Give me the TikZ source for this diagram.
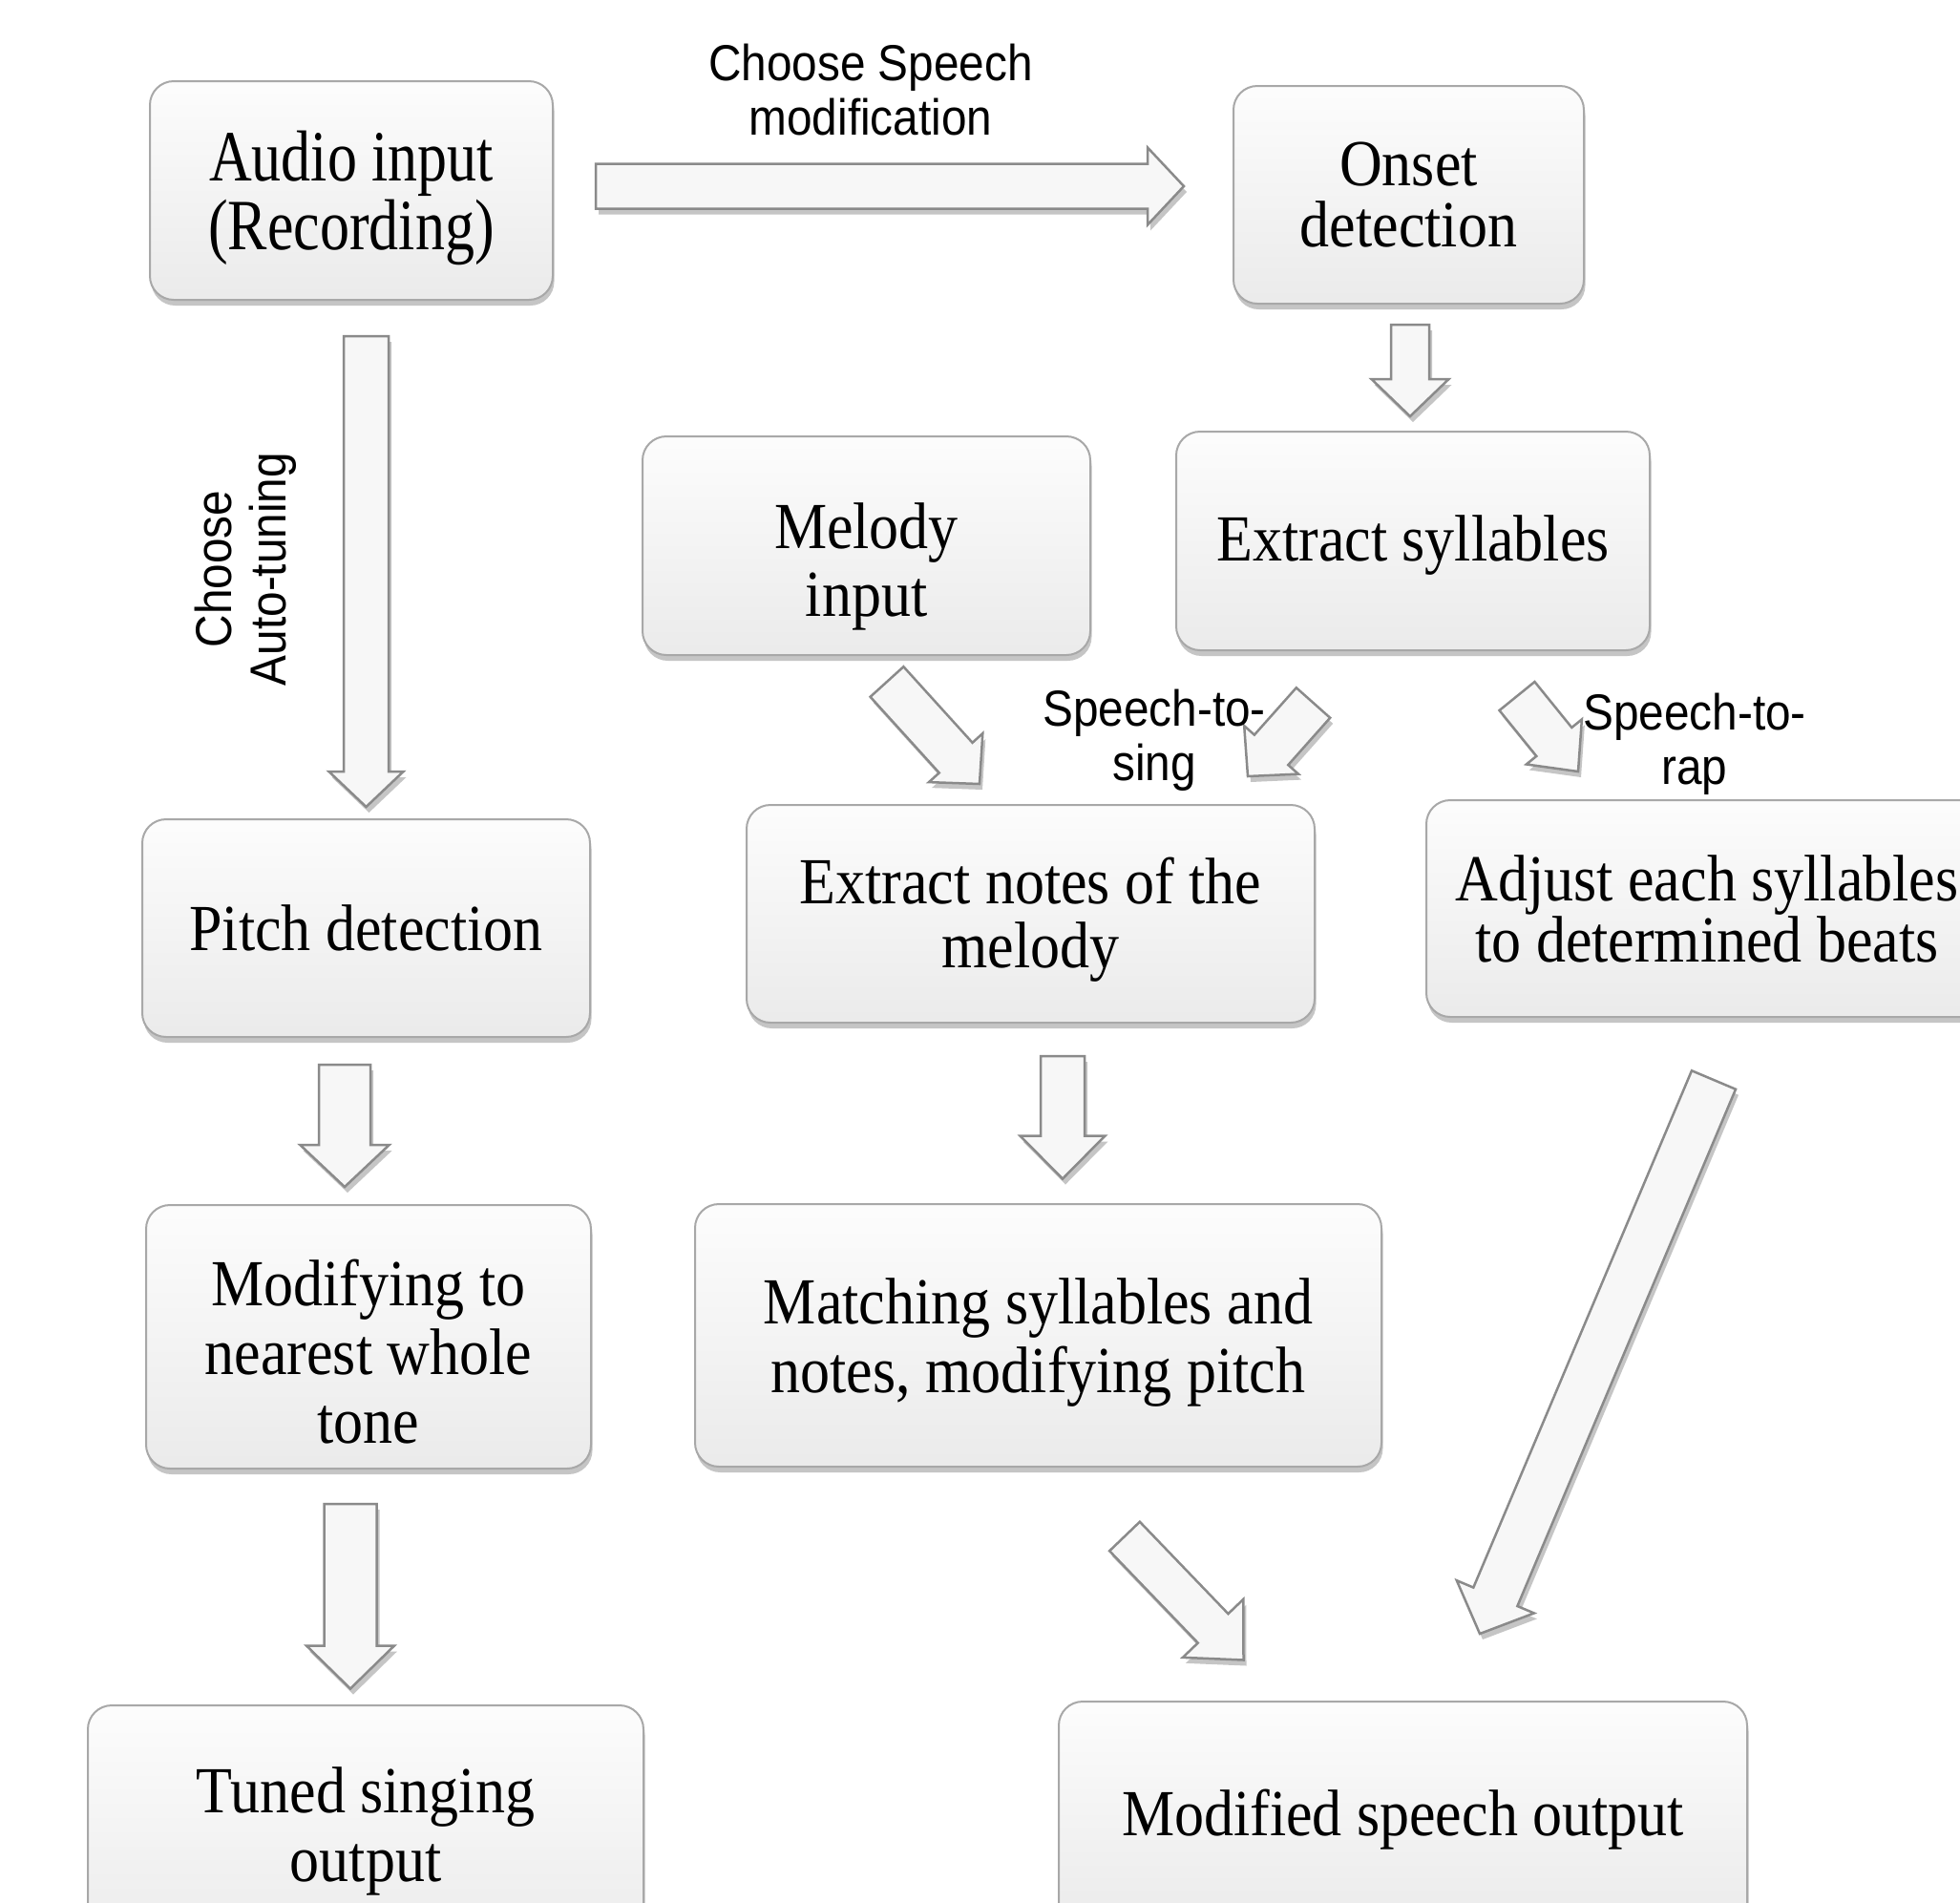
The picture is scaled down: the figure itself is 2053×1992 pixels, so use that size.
\documentclass[tikz,border=0pt]{standalone}
\usepackage{fontspec}
\usetikzlibrary{calc,shadows}
\newfontfamily\boxfont[FakeStretch=0.9]{Liberation Serif}
\newfontfamily\tallboxfont[FakeStretch=0.82]{Liberation Serif}
\newfontfamily\labelfont[FakeStretch=0.9]{Liberation Sans}
\definecolor{boxline}{HTML}{A8A8A8}
\definecolor{arrline}{HTML}{8A8A8A}

\tikzset{
  procbox/.style={draw=boxline, line width=0.2mm, rounded corners=2.5mm,
    top color=black!1, bottom color=black!8,
    drop shadow={shadow xshift=0.15mm, shadow yshift=-0.6mm, fill=black!45, opacity=0.5},
    align=center, inner sep=0pt, font=\boxfont\fontsize{19.6}{#1}\selectfont},
  procbox/.default=20.5,
  lbl/.style={font=\labelfont\fontsize{15.1}{16.3}\selectfont, align=center, inner sep=0pt},
  blockarr/.style={draw=arrline, line width=0.25mm, fill=black!3, line join=miter,
    drop shadow={shadow xshift=0.3mm, shadow yshift=-0.6mm, fill=black!50, opacity=0.45}}
}

% block arrow: tail, tip, shaft half width, head half width, head length
\newcommand{\blockarrow}[5]{%
  \coordinate (hb) at ($(#2)!#5!(#1)$);
  \draw[blockarr] ($(#1)!#3!90:(#2)$) -- ($(hb)!#3!90:(#2)$) -- ($(hb)!#4!90:(#2)$)
    -- (#2) -- ($(hb)!#4!-90:(#2)$) -- ($(hb)!#3!-90:(#2)$) -- ($(#1)!#3!-90:(#2)$) -- cycle;
}

\begin{document}
\begin{tikzpicture}[x=0.1mm, y=-0.1mm]
    \useasboundingbox (0,0) rectangle (2053,1992);
    \clip (0,0) rectangle (2053,1992);
    \fill[white] (0,0) rectangle (2053,1992);

    % Boxes
    \node[procbox, font=\tallboxfont\fontsize{21.5}{18.5}\selectfont, text depth=0pt,
          minimum width=42.2mm, minimum height=22.9mm] (audio) at (368,199.5) {Audio input\\(Recording)};
    \node[procbox=18.2, minimum width=36.7mm, minimum height=22.8mm] (onset) at (1475.5,204) {Onset\\detection};
    \node[procbox=20.2, text height=14.8mm, text depth=0pt, minimum width=46.9mm, minimum height=22.9mm] (melody) at (907.5,571.5) {Melody\\input};
    \node[procbox, text depth=0.5mm, minimum width=49.6mm, minimum height=22.9mm] (sylls) at (1480,566.5) {Extract syllables};
    \node[procbox, minimum width=46.9mm, minimum height=22.8mm] (pitch) at (383.5,972) {Pitch detection};
    \node[procbox=19.2, text depth=0.3mm, minimum width=59.5mm, minimum height=22.8mm] (notes) at (1079.5,957) {Extract notes of the\\melody};
    \node[procbox=18.2, minimum width=58.8mm, minimum height=22.7mm] (adjust) at (1788,951.5) {Adjust each syllables\\to determined beats};
    \node[procbox, text height=22.3mm, text depth=0pt, minimum width=46.6mm, minimum height=27.6mm] (modify) at (386,1400) {Modifying to\\nearest whole\\tone};
    \node[procbox, text depth=0pt, minimum width=71.9mm, minimum height=27.5mm] (match) at (1087.5,1398.5) {Matching syllables and\\notes, modifying pitch};
    \node[procbox, minimum width=58.2mm, minimum height=26.4mm] (tuned) at (383,1918) {Tuned singing\\output};
    \node[procbox, text depth=0.3mm, minimum width=72.1mm, minimum height=23.6mm] (modspeech) at (1469.5,1900) {Modified speech output};

    % Block arrows
    \foreach \n/\xa/\ya/\xb/\yb/\w/\h/\l in {
        speech/624/195/1240/195/2.35mm/4.05mm/3.8mm,
        tune/383.5/352/383.5/845/2.35mm/3.9mm/3.7mm,
        onset/1477/340/1477/436/2.0mm/4.05mm/3.9mm,
        melody/929/714/1026/821/2.35mm/3.8mm/3.7mm,
        sing/1375.5/736/1307/813/2.37mm/3.8mm/3.7mm,
        rap/1589/729/1653/808/2.38mm/3.74mm/4.0mm,
        notes/1113/1106/1113/1234.5/2.3mm/4.45mm/4.5mm,
        pitch/361/1115/361/1243/2.7mm/4.67mm/4.4mm,
        whole/367/1575/367/1768.5/2.75mm/4.6mm/4.5mm,
        match/1178/1609/1302.5/1738.5/2.2mm/4.4mm/4.6mm,
        beats/1795/1131/1550/1711/2.5mm/4.4mm/4.2mm} {
        \coordinate (\n-s) at (\xa,\ya);
        \coordinate (\n-e) at (\xb,\yb);
        \blockarrow{\n-s}{\n-e}{\w}{\h}{\l}
    }

    % Labels
    \node[lbl] (speechlbl) at (912,94) {Choose Speech\\modification};
    \node[lbl, rotate=90] (autolbl) at (257,596) {Choose\\Auto-tuning};
    \node[lbl] (singlbl) at (1209,775) {Speech-to-\\sing};
    \node[lbl] (raplbl) at (1775,779) {Speech-to-\\rap};
\end{tikzpicture}
\end{document}
